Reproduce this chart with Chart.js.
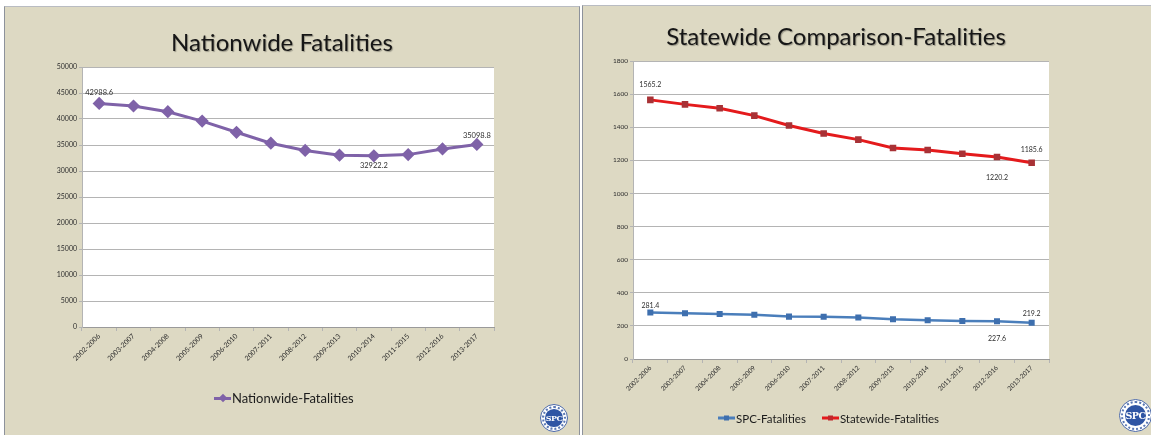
<!DOCTYPE html>
<html>
<head>
<meta charset="utf-8">
<script src="https://cdn.jsdelivr.net/npm/chart.js@4"></script>
<style>
  html, body { margin: 0; padding: 0; background: #fff; }
  #wrap { position: relative; width: 1151px; height: 435px; overflow: hidden; background: #fff; font-family: Lato, "Noto Sans", sans-serif; }
  .panel { position: absolute; box-sizing: border-box; background: #ddd9c3; border-left: 1px solid #8d929b; border-top: 1px solid #b9bcc2; border-right: 1px solid #8d929b; }
  canvas { position: absolute; }
  .title { position: absolute; color: #161616; font-size: 24px; white-space: nowrap; text-shadow: 1px 1px 1px rgba(0,0,0,0.3); transform: translate(-50%, -50%); }
  .legend { position: absolute; display: flex; align-items: center; color: #1c1c1c; white-space: nowrap; transform: translateY(-50%); }
  .legend .item { display: flex; align-items: center; margin-right: 16px; }
  .mark { position: relative; width: 17px; height: 10px; margin-right: 1px; }
  .mark .ln { position: absolute; left: 0; right: 0; top: 50%; height: 3px; margin-top: -1.5px; }
  .mark .pt { position: absolute; left: 50%; top: 50%; }
  .logo { position: absolute; border-radius: 50%; background: #fff; border: 1px solid #4a68a8; box-sizing: border-box; }
  .logo .in { position: absolute; inset: 16%; border-radius: 50%; background: #2f55a4; color: #fff; font-family: "DejaVu Serif", serif; font-weight: bold; display: flex; align-items: center; justify-content: center; letter-spacing: -0.5px; }
  .logo .ring { position: absolute; inset: 4%; border-radius: 50%; border: 2px dotted #5a78b4; }
</style>
</head>
<body>
<div id="wrap">
  <div class="panel" style="left:4px; top:6px; width:576px; height:440px;"></div>
  <div class="panel" style="left:582px; top:5px; width:580px; height:440px;"></div>

  <canvas id="nationChart" width="575" height="429" style="left:4px; top:6px;"></canvas>
  <canvas id="stateChart" width="569" height="430" style="left:582px; top:5px;"></canvas>

  <div class="title" style="left:282px; top:41px;">Nationwide Fatalities</div>
  <div class="title" style="left:836px; top:35px;">Statewide Comparison-Fatalities</div>

  <div class="legend" style="left:214px; top:398px; font-size:13px;">
    <div class="item">
      <div class="mark"><div class="ln" style="background:#7f62a8"></div>
        <div class="pt" style="width:6px;height:6px;margin:-3px 0 0 -3px;background:#7f62a8;transform:rotate(45deg)"></div></div>
      <span>Nationwide-Fatalities</span>
    </div>
  </div>
  <div class="legend" style="left:718px; top:418px; font-size:11.5px;">
    <div class="item">
      <div class="mark"><div class="ln" style="background:#4a7ebb"></div>
        <div class="pt" style="width:5px;height:5px;margin:-2.5px 0 0 -2.5px;background:#3e6fae"></div></div>
      <span>SPC-Fatalities</span>
    </div>
    <div class="item">
      <div class="mark"><div class="ln" style="background:#e41a1c"></div>
        <div class="pt" style="width:5px;height:5px;margin:-2.5px 0 0 -2.5px;background:#c0282d"></div></div>
      <span>Statewide-Fatalities</span>
    </div>
  </div>

  <div class="logo" style="left:540px; top:404px; width:28px; height:28px;"><div class="ring"></div><div class="in" style="font-size:8px;">SPC</div></div>
  <div class="logo" style="left:1119px; top:399px; width:33px; height:33px;"><div class="ring"></div><div class="in" style="font-size:9.5px;">SPC</div></div>
</div>

<script>
const categories = ['2002-2006', '2003-2007', '2004-2008', '2005-2009', '2006-2010', '2007-2011',
                    '2008-2012', '2009-2013', '2010-2014', '2011-2015', '2012-2016', '2013-2017'];

const nationwideFatalities = [42988.6, 42500, 41400, 39600, 37450, 35350, 33950, 33050, 32922.2, 33150, 34250, 35098.8];
const spcFatalities = [281.4, 276, 272, 267, 256, 255, 251, 240, 234, 230, 227.6, 219.2];
const statewideFatalities = [1565.2, 1538, 1514, 1470, 1410, 1362, 1325, 1275, 1262, 1240, 1220.2, 1185.6];

const nationAxis = { min: 0, max: 50000, step: 5000 };
const stateAxis = { min: 0, max: 1800, step: 200 };

const GRID = '#b4b4b4';
const TEXT = '#2e2e2e';

// white plot area on the tan slide background
const plotBackground = {
    id: 'plotBackground',
    beforeDraw(chart) {
        const { ctx, chartArea: a } = chart;
        ctx.save();
        ctx.fillStyle = '#ffffff';
        ctx.fillRect(a.left, a.top, a.right - a.left, a.bottom - a.top);
        ctx.restore();
    }
};

// value labels next to a few points, text comes from the dataset values
const pointLabels = {
    id: 'pointLabels',
    afterDatasetsDraw(chart, args, opts) {
        const ctx = chart.ctx;
        ctx.save();
        ctx.font = `${opts.size}px Lato, "Noto Sans", sans-serif`;
        ctx.fillStyle = TEXT;
        ctx.textAlign = 'center';
        ctx.textBaseline = 'middle';
        (opts.items || []).forEach(item => {
            const meta = chart.getDatasetMeta(item.dataset);
            const pt = meta.data[item.index];
            const value = chart.data.datasets[item.dataset].data[item.index];
            ctx.fillText(String(value), pt.x + (item.dx || 0), pt.y + item.dy);
        });
        ctx.restore();
    }
};

function makeScales(axis, yWidth, xHeight, fontSize) {
    return {
        x: {
            offset: true,
            grid: { offset: true, drawOnChartArea: false, tickLength: 4, color: GRID },
            border: { display: true, color: '#9a9a9a' },
            ticks: {
                autoSkip: false, minRotation: 45, maxRotation: 45,
                font: { size: fontSize, family: 'Lato' }, color: TEXT, padding: 1
            },
            afterFit: s => { s.height = xHeight; }
        },
        y: {
            min: axis.min, max: axis.max,
            grid: { color: GRID, lineWidth: 1, tickLength: 3 },
            border: { display: true, color: GRID },
            ticks: {
                stepSize: axis.step,
                font: { size: fontSize, family: 'Lato' }, color: TEXT, padding: 2,
                callback: v => String(v)
            },
            afterFit: s => { s.width = yWidth; }
        }
    };
}

new Chart(document.getElementById('nationChart'), {
    type: 'line',
    data: {
        labels: categories,
        datasets: [{
            label: 'Nationwide-Fatalities',
            data: nationwideFatalities,
            borderColor: '#7f62a8',
            backgroundColor: '#7f62a8',
            borderWidth: 3,
            pointStyle: 'rectRot',
            pointRadius: 4.5,
            pointBackgroundColor: '#7f62a8',
            pointBorderColor: '#7f62a8',
            tension: 0
        }]
    },
    options: {
        responsive: false,
        animation: false,
        layout: { padding: { left: 48, right: 85, top: 61, bottom: 68 } },
        scales: makeScales(nationAxis, 30, 40, 7),
        plugins: {
            legend: { display: false },
            title: { display: false },
            tooltip: { enabled: false },
            pointLabels: {
                size: 7.5,
                items: [
                    { dataset: 0, index: 0, dy: -11 },
                    { dataset: 0, index: 8, dy: 10 },
                    { dataset: 0, index: 11, dy: -9 }
                ]
            }
        }
    },
    plugins: [plotBackground, pointLabels]
});

new Chart(document.getElementById('stateChart'), {
    type: 'line',
    data: {
        labels: categories,
        datasets: [{
            label: 'SPC-Fatalities',
            data: spcFatalities,
            borderColor: '#4a7ebb',
            borderWidth: 2.5,
            pointStyle: 'rect',
            pointRadius: 2.5,
            pointBackgroundColor: '#3e6fae',
            pointBorderColor: '#3e6fae',
            tension: 0
        }, {
            label: 'Statewide-Fatalities',
            data: statewideFatalities,
            borderColor: '#e41a1c',
            borderWidth: 3,
            pointStyle: 'rect',
            pointRadius: 2.5,
            pointBackgroundColor: '#c0282d',
            pointBorderColor: '#a83236',
            tension: 0
        }]
    },
    options: {
        responsive: false,
        animation: false,
        layout: { padding: { left: 25, right: 102, top: 56, bottom: 36 } },
        scales: makeScales(stateAxis, 26, 40, 6.5),
        plugins: {
            legend: { display: false },
            title: { display: false },
            tooltip: { enabled: false },
            pointLabels: {
                size: 7,
                items: [
                    { dataset: 1, index: 0, dy: -15 },
                    { dataset: 1, index: 10, dy: 21 },
                    { dataset: 1, index: 11, dy: -13 },
                    { dataset: 0, index: 0, dy: -7 },
                    { dataset: 0, index: 10, dy: 17 },
                    { dataset: 0, index: 11, dy: -9 }
                ]
            }
        }
    },
    plugins: [plotBackground, pointLabels]
});
</script>
</body>
</html>
